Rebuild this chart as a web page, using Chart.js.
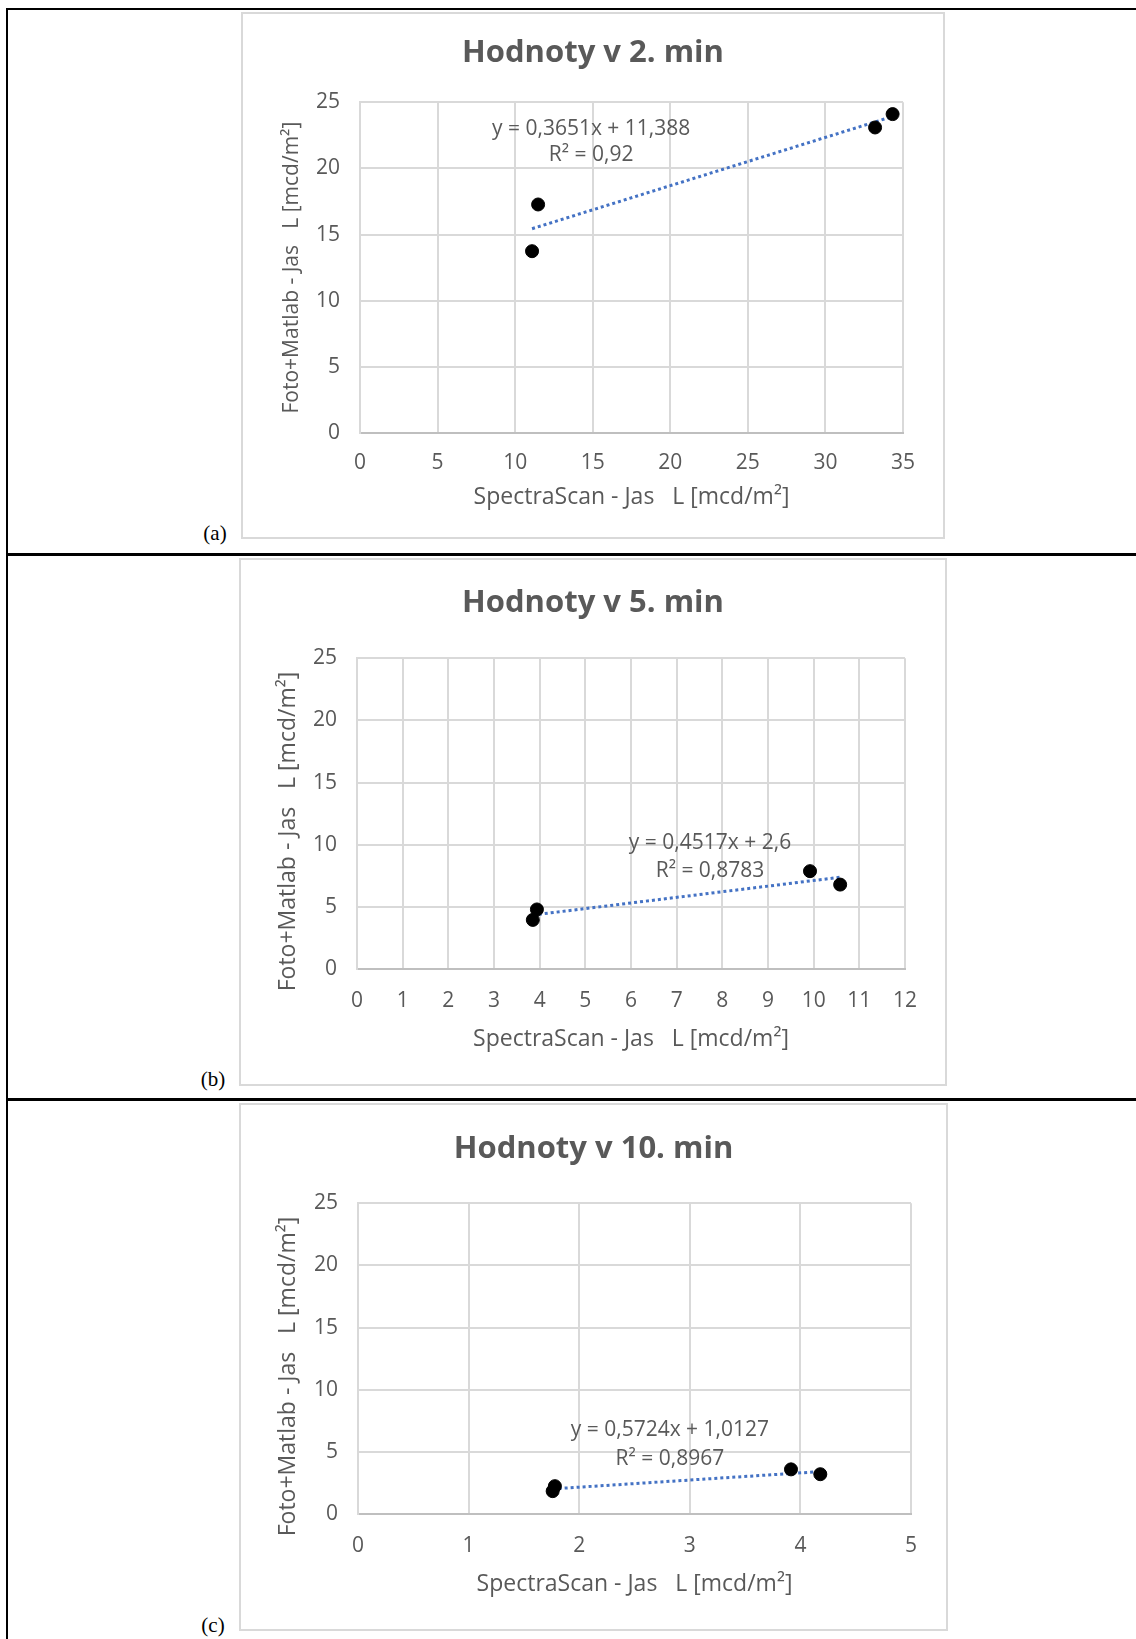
<!DOCTYPE html>
<html>
<head>
<meta charset="utf-8">
<script src="https://cdn.jsdelivr.net/npm/chart.js@4.4.1/dist/chart.umd.min.js"></script>
<style>
  body { margin: 0; background: #fff; width: 1136px; height: 1639px; position: relative; overflow: hidden; }
  .rule { position: absolute; background: #000; }
  .box { position: absolute; border: 2px solid #d9d9d9; background: #fff; }
  .box canvas { position: absolute; left: 0; top: 0; }
  .tag { position: absolute; font-family: "Liberation Serif", "Times New Roman", serif; font-size: 21px; color: #000; transform: translate(-50%, -50%); }
</style>
</head>
<body>
<!-- table lines -->
<div class="rule" style="left:6px;top:8px;width:1130px;height:2px"></div>
<div class="rule" style="left:6px;top:553px;width:1130px;height:3px"></div>
<div class="rule" style="left:6px;top:1098px;width:1130px;height:3px"></div>
<div class="rule" style="left:6px;top:8px;width:2px;height:1631px"></div>

<div class="box" style="left:241px;top:12px;width:700px;height:523px"><canvas id="chartA"></canvas></div>
<div class="box" style="left:239px;top:558px;width:704px;height:524px"><canvas id="chartB"></canvas></div>
<div class="box" style="left:239px;top:1103px;width:705px;height:524px"><canvas id="chartC"></canvas></div>

<div class="tag" style="left:215px;top:533px">(a)</div>
<div class="tag" style="left:213px;top:1079px">(b)</div>
<div class="tag" style="left:213px;top:1625px">(c)</div>

<script>
// Hodnoty v 2. min
const titleA = "Hodnoty v 2. min";
const xA = [11.09, 11.48, 33.2, 34.33];
const yA = [13.74, 17.27, 23.09, 24.1];
const trendXA = [11.09, 34.33];
const trendYA = [15.44, 23.92];
const eqA = ["y = 0,3651x + 11,388", "R² = 0,92"];

// Hodnoty v 5. min
const titleB = "Hodnoty v 5. min";
const xB = [3.85, 3.94, 9.92, 10.58];
const yB = [3.95, 4.79, 7.87, 6.79];
const trendXB = [3.85, 10.58];
const trendYB = [4.34, 7.38];
const eqB = ["y = 0,4517x + 2,6", "R² = 0,8783"];

// Hodnoty v 10. min
const titleC = "Hodnoty v 10. min";
const xC = [1.76, 1.78, 3.915, 4.18];
const yC = [1.84, 2.24, 3.59, 3.2];
const trendXC = [1.76, 4.18];
const trendYC = [2.02, 3.41];
const eqC = ["y = 0,5724x + 1,0127", "R² = 0,8967"];

const xTitle = "SpectraScan - Jas   L [mcd/m²]";
const yTitle = "Foto+Matlab - Jas   L [mcd/m²]";
const yMax = 25, yStep = 5;

const FONT = '"Open Sans", "DejaVu Sans", sans-serif';
const GREY = '#595959';

// draws the trendline equation like Excel does
const equationLabel = {
    id: 'equationLabel',
    afterDatasetsDraw(chart, args, opts) {
        const ctx = chart.ctx;
        const px = chart.scales.x.getPixelForValue(opts.x);
        const py = chart.scales.y.getPixelForValue(opts.y);
        ctx.save();
        ctx.font = '21px ' + FONT;
        ctx.fillStyle = GREY;
        ctx.textAlign = 'center';
        ctx.textBaseline = 'middle';
        opts.lines.forEach((line, i) => ctx.fillText(line, px, py + i * opts.gap));
        ctx.restore();
    }
};

function makeChart(id, p) {
    const ctx = document.getElementById(id);
    ctx.width = p.w;
    ctx.height = p.h;
    return new Chart(ctx, {
        type: 'scatter',
        data: {
            datasets: [
                {
                    data: p.xs.map((x, i) => ({ x: x, y: p.ys[i] })),
                    backgroundColor: '#000',
                    borderColor: '#000',
                    pointRadius: 6.5,
                    order: 1
                },
                {
                    type: 'line',
                    data: p.tx.map((x, i) => ({ x: x, y: p.ty[i] })),
                    borderColor: '#4472c4',
                    borderWidth: 3,
                    borderDash: [3, 3],
                    pointRadius: 0,
                    fill: false,
                    order: 2
                }
            ]
        },
        options: {
            responsive: false,
            animation: false,
            layout: { padding: 0 },
            plugins: {
                legend: { display: false },
                tooltip: { enabled: false },
                title: {
                    display: true,
                    text: p.title,
                    color: GREY,
                    font: { family: FONT, size: 31, weight: 'bold' },
                    padding: { top: p.titleTop, bottom: p.titleBottom }
                },
                equationLabel: { x: p.eqX, y: p.eqY, gap: p.eqGap, lines: p.eq }
            },
            scales: {
                x: {
                    type: 'linear',
                    min: 0,
                    max: p.xMax,
                    ticks: { stepSize: p.xStep, color: GREY, padding: p.xTickPad, font: { family: FONT, size: 21 } },
                    grid: { color: '#d9d9d9', lineWidth: 2, drawTicks: false },
                    border: { color: '#bfbfbf', width: 2 },
                    title: {
                        display: true, text: xTitle, color: GREY,
                        font: { family: FONT, size: 23 },
                        padding: { top: 0, bottom: p.xTitlePad }
                    },
                    afterFit: s => { s.height = p.xH; }
                },
                y: {
                    min: 0,
                    max: yMax,
                    ticks: { stepSize: yStep, color: GREY, padding: 20, font: { family: FONT, size: 21 } },
                    grid: { color: '#d9d9d9', lineWidth: 2, drawTicks: false },
                    border: { color: '#d9d9d9', width: 2 },
                    title: {
                        display: true, text: yTitle + ' '.repeat(p.yTitleShift), color: GREY,
                        font: { family: FONT, size: p.yTitleSize },
                        padding: { top: p.yTitlePad, bottom: 0 }
                    },
                    afterFit: s => { s.width = p.yW; }
                },
                // empty right-hand strip so the title stays centred on the whole box
                yR: {
                    position: 'right',
                    grid: { display: false, drawTicks: false },
                    border: { display: false },
                    ticks: { display: false },
                    afterFit: s => { s.width = p.padRight; }
                }
            }
        },
        plugins: [equationLabel]
    });
}

makeChart('chartA', {
    w: 700, h: 523, title: titleA, xs: xA, ys: yA, tx: trendXA, ty: trendYA,
    eq: eqA, eqX: 14.9, eqY: 22.94, eqGap: 26,
    xMax: 35, xStep: 5, padRight: 40, yW: 117, xH: 104,
    titleTop: 21, titleBottom: 30, xTickPad: 17, xTitlePad: 26, yTitlePad: 36,
    yTitleSize: 21, yTitleShift: 0
});

makeChart('chartB', {
    w: 704, h: 524, title: titleB, xs: xB, ys: yB, tx: trendXB, ty: trendYB,
    eq: eqB, eqX: 7.73, eqY: 10.14, eqGap: 28,
    xMax: 12, xStep: 1, padRight: 40, yW: 116, xH: 115,
    titleTop: 25, titleBottom: 36, xTickPad: 19, xTitlePad: 31, yTitlePad: 34,
    yTitleSize: 23, yTitleShift: 6
});

makeChart('chartC', {
    w: 705, h: 524, title: titleC, xs: xC, ys: yC, tx: trendXC, ty: trendYC,
    eq: eqC, eqX: 2.82, eqY: 6.75, eqGap: 29,
    xMax: 5, xStep: 1, padRight: 35, yW: 117, xH: 115,
    titleTop: 26, titleBottom: 35, xTickPad: 19, xTitlePad: 31, yTitlePad: 34,
    yTitleSize: 23, yTitleShift: 6
});
</script>
</body>
</html>
